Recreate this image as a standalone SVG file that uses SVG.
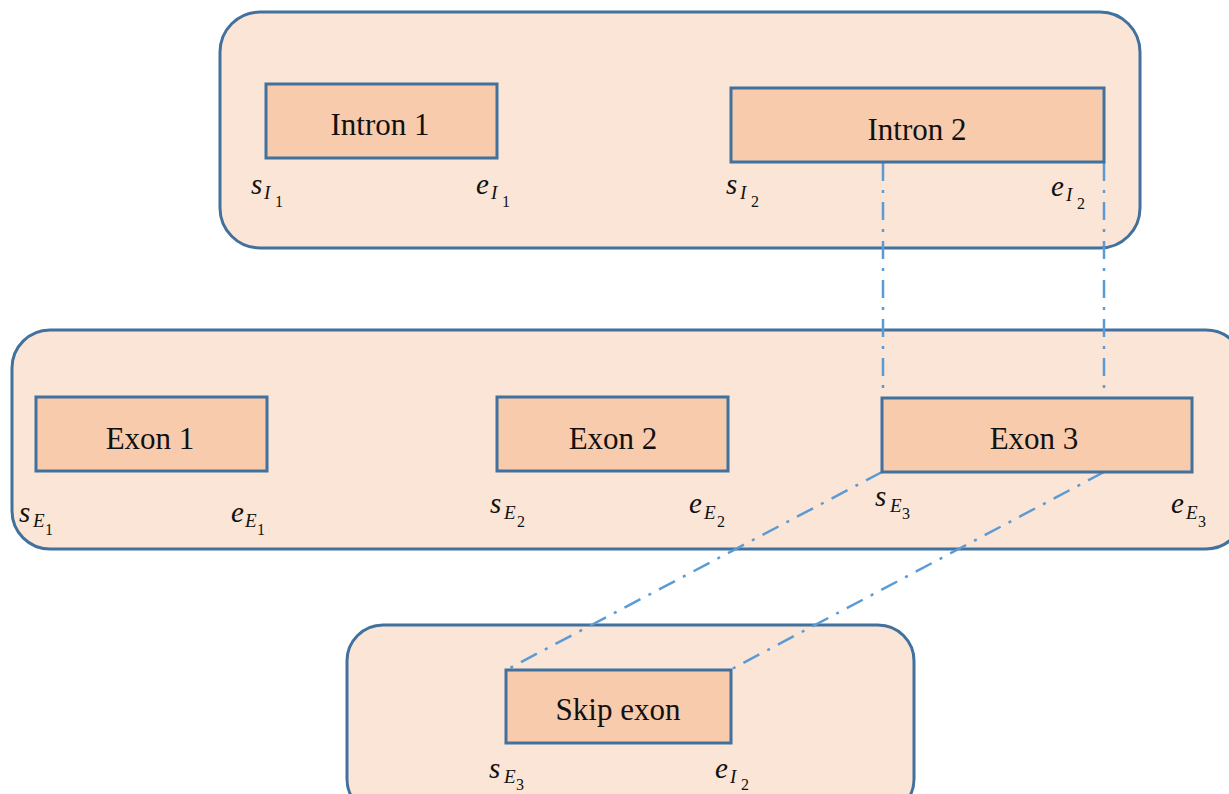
<svg xmlns="http://www.w3.org/2000/svg" width="1229" height="794" viewBox="0 0 1229 794">
<style>
.cont{fill:#fbe5d6;stroke:#41719c;stroke-width:3}
.box{fill:#f8cbad;stroke:#41719c;stroke-width:3}
text{font-family:"Liberation Serif","Times New Roman","DejaVu Serif",serif;fill:#111}
.lbl{font-size:31px;text-anchor:middle}
.m{font-style:italic;font-size:29px}
.s1{font-style:italic;font-size:19px}
.s2{font-size:16px}
.con{fill:none;stroke:#5b9bd5;stroke-width:2.5;stroke-dasharray:18 9 3 9}
</style>
<rect width="1229" height="794" fill="#ffffff"/>
<g id="introns">
<rect class="cont" x="220" y="12" width="920" height="236" rx="40"/>
</g>
<g id="exons">
<rect class="cont" x="12" y="330" width="1232" height="219" rx="38"/>
</g>
<g id="skip">
<rect class="cont" x="347" y="625" width="567" height="190" rx="36"/>
</g>
<g id="connectors">
<line class="con" x1="883" y1="163" x2="883" y2="398"/>
<line class="con" x1="1104" y1="163" x2="1104" y2="404"/>
<line class="con" x1="882" y1="472" x2="506" y2="670"/>
<line class="con" x1="1104" y1="472" x2="730" y2="670"/>
</g>
<g id="intron1">
<rect class="box" x="266" y="84" width="231" height="74"/>
<text class="lbl" x="380" y="135">Intron 1</text>
<text class="m" x="251" y="194">s</text><text class="s1" x="264" y="199">I</text><text class="s2" x="275" y="207">1</text>
<text class="m" x="476" y="194">e</text><text class="s1" x="491" y="199">I</text><text class="s2" x="502" y="207">1</text>
</g>
<g id="intron2">
<rect class="box" x="731" y="88" width="373" height="74"/>
<text class="lbl" x="917" y="140">Intron 2</text>
<text class="m" x="726" y="194">s</text><text class="s1" x="740" y="199">I</text><text class="s2" x="751" y="207">2</text>
<text class="m" x="1051" y="196">e</text><text class="s1" x="1066" y="201">I</text><text class="s2" x="1077" y="209">2</text>
</g>
<g id="exon1">
<rect class="box" x="36" y="397" width="231" height="74"/>
<text class="lbl" x="150" y="449">Exon 1</text>
<text class="m" x="19" y="522">s</text><text class="s1" x="33" y="527">E</text><text class="s2" x="45" y="535">1</text>
<text class="m" x="231" y="522">e</text><text class="s1" x="245" y="527">E</text><text class="s2" x="257" y="535">1</text>
</g>
<g id="exon2">
<rect class="box" x="497" y="397" width="231" height="74"/>
<text class="lbl" x="613" y="449">Exon 2</text>
<text class="m" x="490" y="513">s</text><text class="s1" x="504" y="519">E</text><text class="s2" x="517" y="527">2</text>
<text class="m" x="689" y="513">e</text><text class="s1" x="704" y="519">E</text><text class="s2" x="717" y="527">2</text>
</g>
<g id="exon3">
<rect class="box" x="882" y="398" width="310" height="74"/>
<text class="lbl" x="1034" y="449">Exon 3</text>
<text class="m" x="875" y="506">s</text><text class="s1" x="890" y="512">E</text><text class="s2" x="902" y="519">3</text>
<text class="m" x="1171" y="513">e</text><text class="s1" x="1186" y="519">E</text><text class="s2" x="1198" y="527">3</text>
</g>
<g id="skipexon">
<rect class="box" x="506" y="670" width="225" height="73"/>
<text class="lbl" x="618" y="720">Skip exon</text>
<text class="m" x="489" y="778">s</text><text class="s1" x="504" y="783">E</text><text class="s2" x="516" y="790">3</text>
<text class="m" x="715" y="778">e</text><text class="s1" x="730" y="783">I</text><text class="s2" x="741" y="790">2</text>
</g>
</svg>
